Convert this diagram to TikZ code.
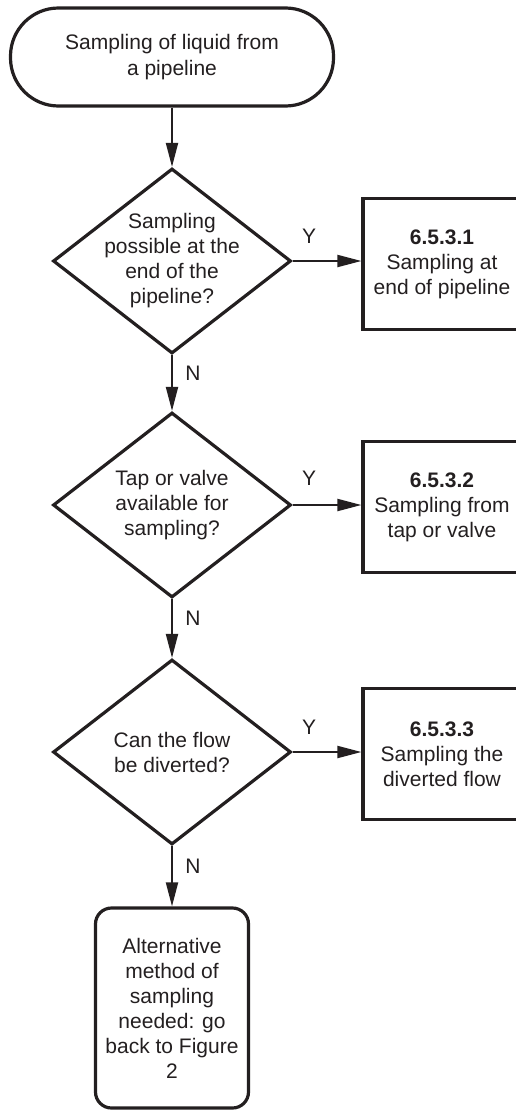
\documentclass[tikz,border=0pt]{standalone}
\usepackage{fontspec}
\setmainfont{Liberation Sans}
\usetikzlibrary{shapes.geometric,arrows.meta}
\definecolor{ink}{RGB}{35,31,32}
\tikzset{
  shapeline/.style={draw=ink, line width=3.2pt, text=ink},
  terminal/.style={shapeline, rectangle, rounded corners=48pt, minimum width=323pt, minimum height=98pt, align=center, font=\fontsize{21}{26}\selectfont},
  endbox/.style={shapeline, rectangle, rounded corners=16pt, minimum width=153pt, minimum height=200pt, align=center, font=\fontsize{21}{25}\selectfont},
  dia/.style={shapeline, diamond, minimum width=238pt, minimum height=185pt, inner sep=0pt},
  diatext/.style={text=ink, align=center, font=\fontsize{21}{25}\selectfont},
  procbox/.style={shapeline, rectangle, minimum width=158pt, minimum height=131pt, align=center, font=\fontsize{21}{25}\selectfont},
  flow/.style={draw=ink, line width=2pt, -{Triangle[length=24pt,width=12pt]}},
  lbl/.style={text=ink, font=\fontsize{21}{25}\selectfont, inner sep=0pt}
}
\begin{document}
\begin{tikzpicture}[x=1pt, y=-1pt]
  \useasboundingbox (0,0) rectangle (516,1111);
  \clip (0,0) rectangle (516,1111);

  % main column
  \node[terminal] (start) at (172,57) {Sampling of liquid from\\a pipeline};

  \node[dia] (d1) at (172,261) {};
  \node[diatext] (d1t) at (d1) {Sampling\\possible at the\\end of the\\pipeline?};

  \node[dia] (d2) at (172,505) {};
  \node[diatext] (d2t) at (d2) {Tap or valve\\available for\\sampling?};

  \node[dia] (d3) at (172,752) {};
  \node[diatext] (d3t) at (d3) {Can the flow\\be diverted?};

  \node[endbox] (alt) at (172,1008) {Alternative\\method of\\sampling\\needed: go\\back to Figure\\2};

  % right-hand procedure boxes
  \node[procbox] (p1) at (442,264) {\textbf{6.5.3.1}\\Sampling at\\end of pipeline};
  \node[procbox] (p2) at (442,507) {\textbf{6.5.3.2}\\Sampling from\\tap or valve};
  \node[procbox] (p3) at (442,754) {\textbf{6.5.3.3}\\Sampling the\\diverted flow};

  % connectors
  \draw[flow] (start.south) -- (d1.north);
  \draw[flow] (d1.south) -- (d2.north);
  \draw[flow] (d2.south) -- (d3.north);
  \draw[flow] (d3.south) -- (alt.north);

  \draw[flow] (d1.east) -- (d1.east -| p1.west);
  \draw[flow] (d2.east) -- (d2.east -| p2.west);
  \draw[flow] (d3.east) -- (d3.east -| p3.west);

  % branch labels
  \node[lbl] (y1) at (309,236) {Y};
  \node[lbl] (y2) at (309,478) {Y};
  \node[lbl] (y3) at (309,727) {Y};
  \node[lbl] (n1) at (193,373) {N};
  \node[lbl] (n2) at (193,618) {N};
  \node[lbl] (n3) at (193,866) {N};
\end{tikzpicture}
\end{document}
